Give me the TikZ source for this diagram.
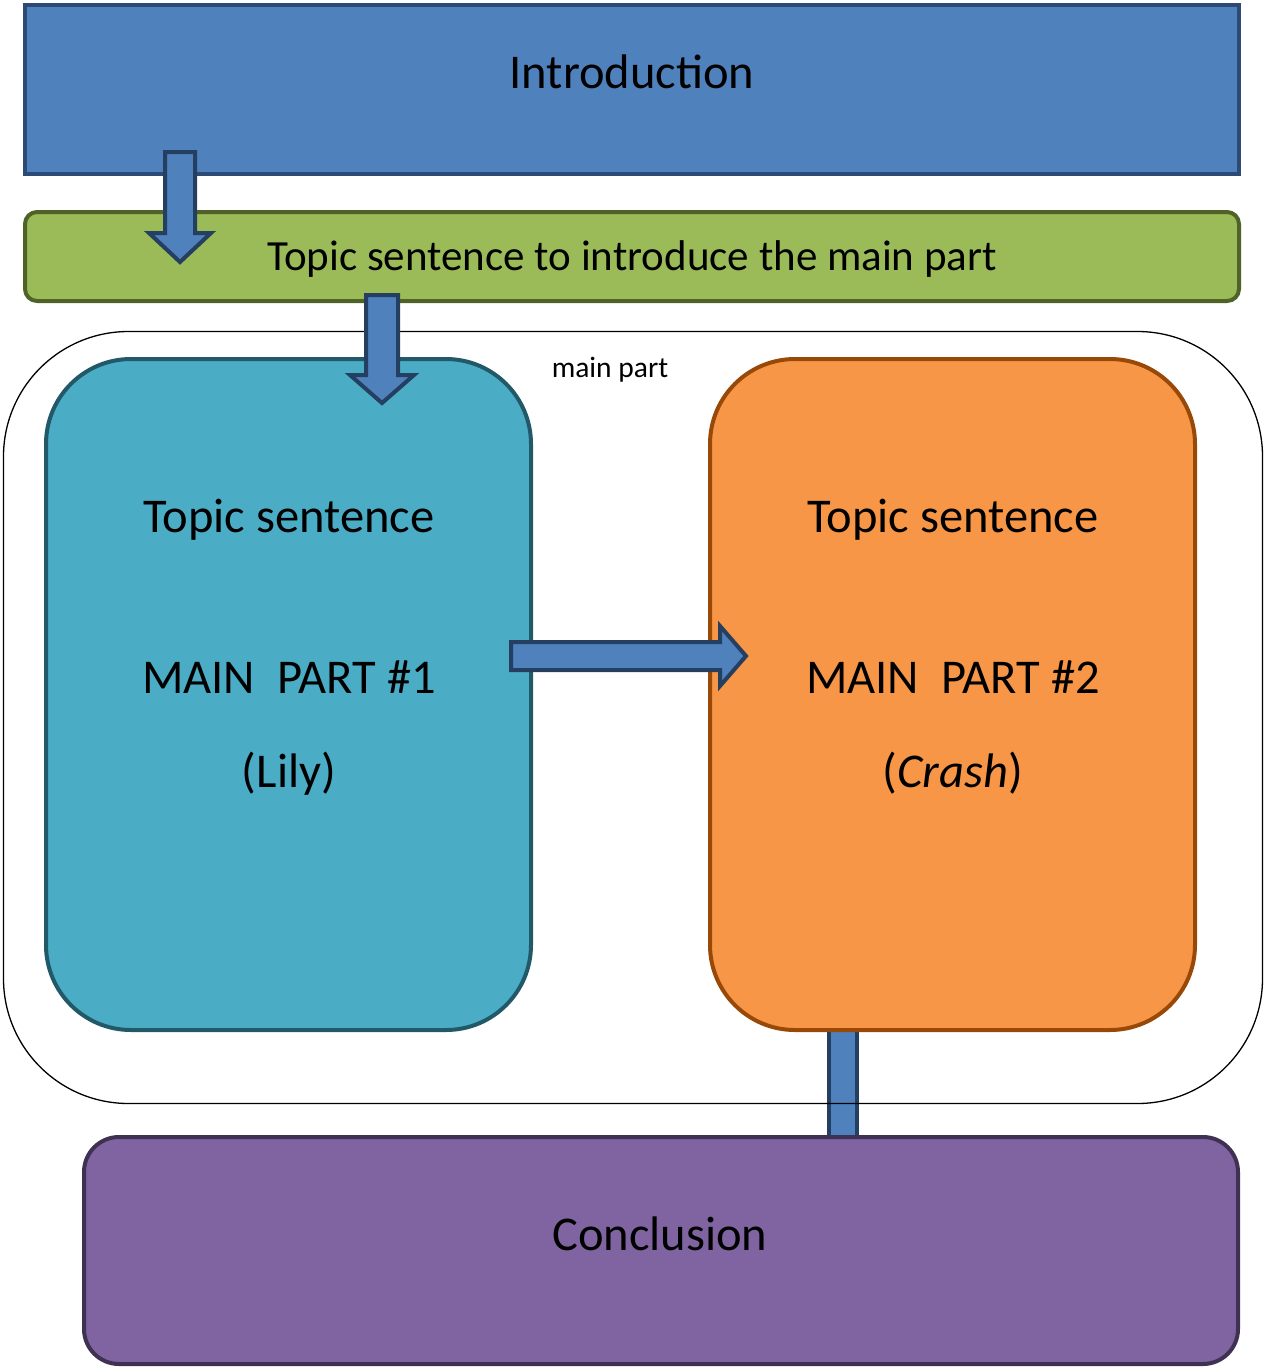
\documentclass[tikz,border=0pt]{standalone}
\usepackage{fontspec}
\setmainfont{Carlito}
\usetikzlibrary{positioning}

\definecolor{introfill}{HTML}{4F81BD}
\definecolor{introline}{HTML}{2C4A73}
\definecolor{topicfill}{HTML}{9BBB59}
\definecolor{topicline}{HTML}{4F6228}
\definecolor{lilyfill}{HTML}{4BACC6}
\definecolor{lilyline}{HTML}{215968}
\definecolor{crashfill}{HTML}{F79646}
\definecolor{crashline}{HTML}{984807}
\definecolor{conclfill}{HTML}{8064A2}
\definecolor{conclline}{HTML}{3F3151}
\definecolor{arrowline}{HTML}{243F60}

\begin{document}
\begin{tikzpicture}[x=1pt,y=-1pt,
  box/.style={draw, line width=4pt, inner sep=0pt, outer sep=0pt},
  fatarrow/.style={draw=arrowline, fill=introfill, line width=4pt, line join=miter},
  big/.style={anchor=base, font=\fontsize{48.5}{58}\selectfont},
]
\useasboundingbox (0,0) rectangle (1264,1369);

% bar from part 2 down to the conclusion
\coordinate (bartop) at (842.5,1020);
\coordinate (barbot) at (842.5,1150);
\path[fatarrow] ([xshift=-14pt]bartop) rectangle ([xshift=14pt]barbot);

% main part frame
\node[draw, line width=1.3pt, rounded corners=125pt, minimum width=1259pt, minimum height=772pt, inner sep=0pt] (main) at (633,717.5) {};
\node[anchor=base, font=\fontsize{29.5}{35}\selectfont] (mainlabel) at (610,377) {main part};

% boxes
\node[box, draw=introline, fill=introfill, minimum width=1214pt, minimum height=169pt] (intro) at (632,89.5) {};
\node[box, draw=topicline, fill=topicfill, rounded corners=12pt, minimum width=1214pt, minimum height=89pt] (topic) at (632,256.5) {};
\node[box, draw=lilyline, fill=lilyfill, rounded corners=85pt, minimum width=485pt, minimum height=671pt] (part1) at (288.5,694.5) {};
\node[box, draw=crashline, fill=crashfill, rounded corners=85pt, minimum width=485pt, minimum height=671pt] (part2) at (952.5,694.5) {};
\node[box, draw=conclline, fill=conclfill, rounded corners=35pt, minimum width=1154pt, minimum height=227pt] (concl) at (661,1250.5) {};

% block arrows
\draw[fatarrow] (165,152) -- (195,152) -- (195,233) -- (211,233) -- (180,262) -- (149,233) -- (165,233) -- cycle;
\draw[fatarrow] (366,295) -- (398,295) -- (398,375) -- (414,375) -- (382,403) -- (350,375) -- (366,375) -- cycle;
\draw[fatarrow] (511,642) -- (720,642) -- (720,626) -- (746,656) -- (720,686) -- (720,670) -- (511,670) -- cycle;

% texts
\node[big] (introtext) at (632,88) {Introduction};
\node[anchor=base, font=\fontsize{43}{52}\selectfont] (topictext) at (632,270) {Topic sentence to introduce the main part};

\node[big] (ts1) at (289,532) {Topic sentence};
\node[big] (mp1) at (289,693) {MAIN~~PART \#1};
\node[big] (nm1) at (289,787) {(Lily)};

\node[big] (ts2) at (953,532) {Topic sentence};
\node[big] (mp2) at (953,693) {MAIN~~PART \#2};
\node[big] (nm2) at (953,787) {(\textit{Crash})};

\node[big] (concltext) at (660,1250) {Conclusion};
\end{tikzpicture}
\end{document}
